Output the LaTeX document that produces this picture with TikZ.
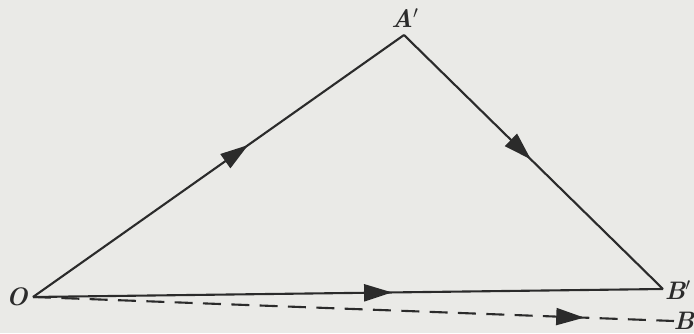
\documentclass[tikz,border=0pt]{standalone}
\usepackage{tikz}
\usetikzlibrary{arrows.meta, decorations.markings}
\definecolor{paper}{HTML}{EAEAE7}
\definecolor{ink}{HTML}{2B2B2B}

\begin{document}
\begin{tikzpicture}[
    every node/.style={font=\Large\bfseries\itshape, text=ink},
    vec/.style={
        draw=ink,
        line width=1.2pt,
        postaction={decorate},
        decoration={markings,
            mark=at position #1 with {\arrow{Triangle[length=0.56cm, width=0.34cm]}}}
    },
    vec/.default=0.55,
    dashvec/.style={vec=#1, dash pattern=on 0.36cm off 0.207cm},
    lbl/.style={inner sep=1pt}
]

% Paper
\fill[paper] (0,0) rectangle (13.88,6.66);
\useasboundingbox (0,0) rectangle (13.88,6.66);

% Points
\coordinate (O) at (0.66,0.72);
\coordinate (A) at (8.08,5.96);
\coordinate (Bp) at (13.26,0.88);
\coordinate (B) at (13.48,0.24);

% Labels
\node[lbl] (lO) at (0.34,0.72) {O};
\node[lbl] (lA) at (8.10,6.30) {A$'$};
\node[lbl] (lBp) at (13.56,0.86) {B$'$};
\node[lbl] (lB) at (13.68,0.24) {B};

% Vectors
\draw[vec=0.58] (O) -- (A);
\draw[vec=0.49] (A) -- (Bp);
\draw[vec=0.57] (O) -- (Bp);
\draw[dashvec=0.86] (O) -- (B);

\end{tikzpicture}
\end{document}
